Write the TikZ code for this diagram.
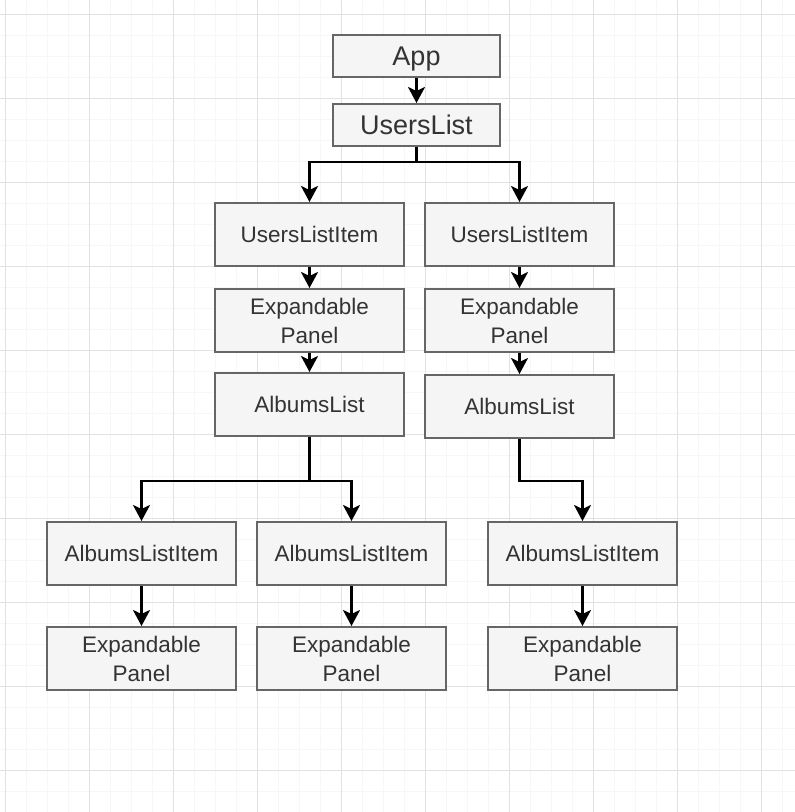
\documentclass[tikz,border=0pt]{standalone}
\usepackage{fontspec}
\setmainfont{Liberation Sans}
\usetikzlibrary{arrows.meta}
\definecolor{boxfill}{HTML}{F5F5F5}
\definecolor{boxline}{HTML}{666666}
\definecolor{boxtext}{HTML}{333333}
\definecolor{gridmajor}{HTML}{E2E2E2}
\definecolor{gridminor}{HTML}{F7F7F7}

\begin{document}
\begin{tikzpicture}[x=1pt,y=-1pt]
        \tikzstyle{main node}=[draw=boxline,fill=boxfill,line width=2pt,text=boxtext,
            minimum width=189pt,minimum height=63pt,align=center,inner sep=0pt,
            font=\fontsize{22.5}{29}\selectfont]
        \tikzstyle{top node}=[main node,minimum width=167pt,minimum height=42pt,
            text depth=0pt,font=\fontsize{27}{32}\selectfont]
        \tikzstyle{link}=[line width=2.5pt,-{Stealth[length=16pt,width=17pt,inset=4pt]}]

        \useasboundingbox (0,0) rectangle (795,812);
        \fill[white] (0,0) rectangle (795,812);
        \foreach \i in {0,...,38} {
            \draw[gridminor,line width=1pt] (5+21*\i,0) -- (5+21*\i,812);
            \draw[gridminor,line width=1pt] (0,14+21*\i) -- (795,14+21*\i);
        }
        \foreach \i in {0,...,9} {
            \draw[gridmajor,line width=1pt] (5+84*\i,0) -- (5+84*\i,812);
            \draw[gridmajor,line width=1pt] (0,14+84*\i) -- (795,14+84*\i);
        }

        \node[top node] (A) at (416.5,56) {App};
        \node[top node] (U) at (416.5,125) {UsersList};

        \node[main node] (L1) at (309.5,234.5) {UsersListItem};
        \node[main node] (R1) at (519.5,234.5) {UsersListItem};
        \node[main node] (L2) at (309.5,320.5) {Expandable\\Panel};
        \node[main node] (R2) at (519.5,320.5) {Expandable\\Panel};
        \node[main node] (L3) at (309.5,404.5) {AlbumsList};
        \node[main node] (R3) at (519.5,406.5) {AlbumsList};

        \node[main node] (I1) at (141.5,553.5) {AlbumsListItem};
        \node[main node] (I2) at (351.5,553.5) {AlbumsListItem};
        \node[main node] (I3) at (582.5,553.5) {AlbumsListItem};
        \node[main node] (P1) at (141.5,658.5) {Expandable\\Panel};
        \node[main node] (P2) at (351.5,658.5) {Expandable\\Panel};
        \node[main node] (P3) at (582.5,658.5) {Expandable\\Panel};

        \draw[link] (A) -- (U);
        \draw[link] (U.south) -- ++(0,15) -| (L1.north);
        \draw[link] (U.south) -- ++(0,15) -| (R1.north);
        \draw[link] (L1) -- (L2);
        \draw[link] (R1) -- (R2);
        \draw[link] (L2) -- (L3);
        \draw[link] (R2) -- (R3);
        \draw[link] (L3.south) -- ++(0,44) -| (I1.north);
        \draw[link] (L3.south) -- ++(0,44) -| (I2.north);
        \draw[link] (R3.south) -- ++(0,42) -| (I3.north);
        \draw[link] (I1) -- (P1);
        \draw[link] (I2) -- (P2);
        \draw[link] (I3) -- (P3);
    \end{tikzpicture}
\end{document}
